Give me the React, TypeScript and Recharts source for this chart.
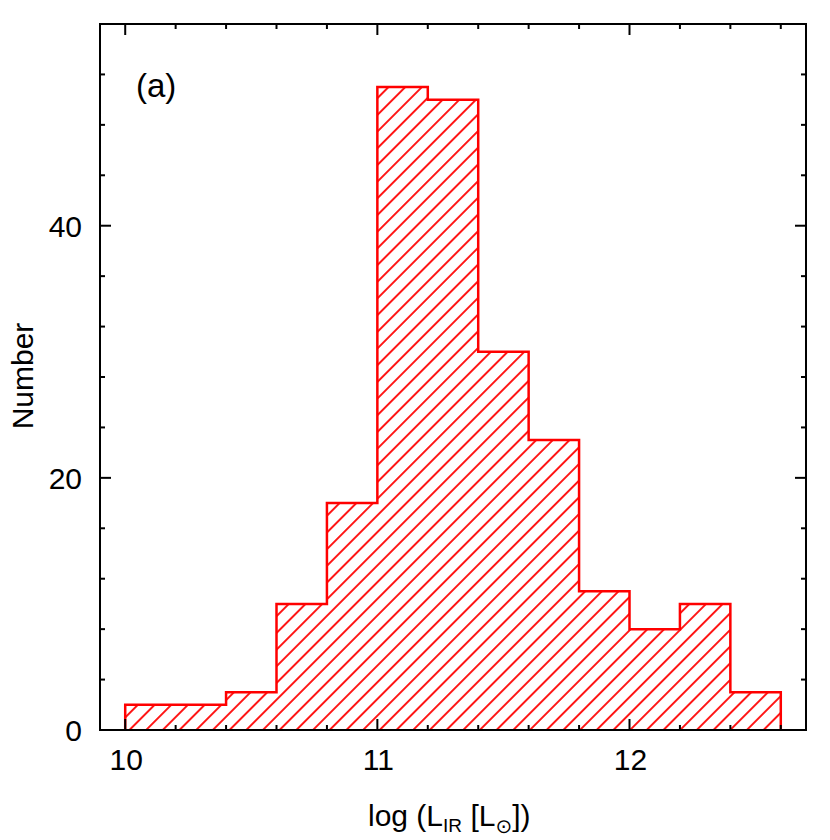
import React from "react"
import { ComposedChart, Area, XAxis, YAxis, Label } from "recharts"

// histogram of log L_IR
const binEdges = [10.0, 10.2, 10.4, 10.6, 10.8, 11.0, 11.2, 11.4, 11.6, 11.8, 12.0, 12.2, 12.4, 12.6]
const counts = [2, 2, 3, 10, 18, 51, 50, 30, 23, 11, 8, 10, 3]

const xTicks = [10.0, 10.2, 10.4, 10.6, 10.8, 11.0, 11.2, 11.4, 11.6, 11.8, 12.0, 12.2, 12.4, 12.6]
const xMajor = [10, 11, 12]
const yTicks = [0, 4, 8, 12, 16, 20, 24, 28, 32, 36, 40, 44, 48, 52]
const yMajor = [0, 20, 40]

const xDomain = [9.9, 12.7]
const yDomain = [0, 56]

// step outline: start and end at zero so the sides close down to the axis
const data = [
  { x: binEdges[0], n: 0 },
  ...counts.map((c, i) => ({ x: binEdges[i], n: c })),
  { x: binEdges[binEdges.length - 1], n: counts[counts.length - 1] },
  { x: binEdges[binEdges.length - 1], n: 0 },
]

const W = 830
const H = 840
const TOP_H = 24
const BOTTOM_H = 110
const PLOT_H = H - TOP_H - BOTTOM_H

const font = "'Liberation Sans', Arial, Helvetica, sans-serif"
const RED = "#ff0000"
const axisLine = { stroke: "#000", strokeWidth: 2, strokeLinecap: "square" as const }

const isMajorX = (v: number) => xMajor.some((m) => Math.abs(m - v) < 1e-6)
const isMajorY = (v: number) => yMajor.includes(v)

// inward ticks on the bottom axis, mirrored on the top frame
function BottomTick({ x, y, payload }: any) {
  const major = isMajorX(payload.value)
  const len = major ? 11 : 5
  const top = y - PLOT_H
  return (
    <g>
      <line x1={x} x2={x} y1={y} y2={y - len} stroke="#000" strokeWidth={2} />
      <line x1={x} x2={x} y1={top} y2={top + len} stroke="#000" strokeWidth={2} />
      {major && (
        <text x={x + 1} y={y + 40} textAnchor="middle" fontSize={30} fontFamily={font} fill="#000">
          {payload.value}
        </text>
      )}
    </g>
  )
}

function LeftTick({ x, y, payload }: any) {
  const major = isMajorY(payload.value)
  return (
    <g>
      <line x1={x} x2={x + (major ? 11 : 5)} y1={y} y2={y} stroke="#000" strokeWidth={2} />
      {major && (
        <text x={x - 18} y={y + 11} textAnchor="end" fontSize={30} fontFamily={font} fill="#000">
          {payload.value}
        </text>
      )}
    </g>
  )
}

function RightTick({ x, y, payload }: any) {
  const major = isMajorY(payload.value)
  return <line x1={x} x2={x - (major ? 11 : 5)} y1={y} y2={y} stroke="#000" strokeWidth={2} />
}

const xLabel = () => (
  <text x={368} y={826} fontSize={30} fontFamily={font} fill="#000">
    <tspan>log (L</tspan>
    <tspan fontSize={19} dy={6}>IR</tspan>
    <tspan dy={-6}> [L</tspan>
    <tspan fontSize={20} dy={7} fontFamily="'DejaVu Sans', sans-serif">⊙</tspan>
    <tspan dy={-7}>])</tspan>
  </text>
)

const yLabel = () => (
  <text x={33} y={376} transform="rotate(-90 33 376)" textAnchor="middle" fontSize={30} fontFamily={font} fill="#000">
    Number
  </text>
)

const panelLabel = () => (
  <text x={136} y={97} fontSize={33} fontFamily={font} fill="#000">
    (a)
  </text>
)

export default function App() {
  return (
    <div style={{ position: "absolute", left: 0, top: 0 }}>
      <ComposedChart width={W} height={H} data={data} margin={{ top: 0, right: 0, bottom: 0, left: 0 }}>
        <defs>
          <pattern id="hatch" patternUnits="userSpaceOnUse" width={11.8} height={11.8} patternTransform="rotate(45)">
            <line x1={5.9} y1={0} x2={5.9} y2={11.8} stroke={RED} strokeWidth={1.8} />
          </pattern>
        </defs>
        <Area
          type="stepAfter"
          dataKey="n"
          stroke={RED}
          strokeWidth={2.5}
          fill="url(#hatch)"
          fillOpacity={1}
          dot={false}
          activeDot={false}
          isAnimationActive={false}
        />
        <XAxis
          dataKey="x"
          type="number"
          domain={xDomain}
          allowDataOverflow
          ticks={xTicks}
          interval={0}
          tickSize={0}
          tickMargin={0}
          height={BOTTOM_H}
          axisLine={axisLine}
          tick={BottomTick}
        >
          <Label content={xLabel} />
        </XAxis>
        <XAxis
          xAxisId="t"
          orientation="top"
          type="number"
          domain={xDomain}
          allowDataOverflow
          tick={false}
          tickLine={false}
          height={TOP_H}
          axisLine={axisLine}
        >
          <Label content={panelLabel} />
        </XAxis>
        <YAxis
          type="number"
          domain={yDomain}
          allowDataOverflow
          ticks={yTicks}
          interval={0}
          tickSize={0}
          tickMargin={0}
          width={100}
          axisLine={axisLine}
          tick={LeftTick}
        >
          <Label content={yLabel} />
        </YAxis>
        <YAxis
          yAxisId="r"
          orientation="right"
          type="number"
          domain={yDomain}
          allowDataOverflow
          ticks={yTicks}
          interval={0}
          tickSize={0}
          tickMargin={0}
          width={24}
          axisLine={axisLine}
          tick={RightTick}
        />
      </ComposedChart>
    </div>
  )
}
